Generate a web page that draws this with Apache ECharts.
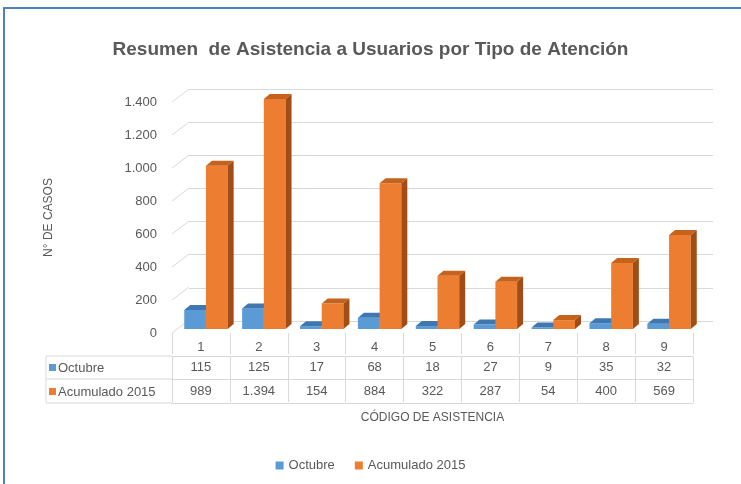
<!DOCTYPE html>
<html>
<head>
<meta charset="utf-8">
<script src="https://cdn.jsdelivr.net/npm/echarts@6/dist/echarts.min.js"></script>
<style>
  html, body { margin: 0; padding: 0; background: #fff; }
  #chart { width: 741px; height: 484px; }
</style>
</head>
<body>
<div id="chart"></div>
<script>
const categories = ['1', '2', '3', '4', '5', '6', '7', '8', '9']
const octubre = [115, 125, 17, 68, 18, 27, 9, 35, 32]
const acumulado = [989, 1394, 154, 884, 322, 287, 54, 400, 569]
const yTicks = [0, 200, 400, 600, 800, 1000, 1200, 1400]
const seriesNames = ['Octubre', 'Acumulado 2015']

const FONT = '"Liberation Sans", Arial, sans-serif'
const TXT = '#595959'
const LINE = '#d9d9d9'

// front plane of the plot and the back wall
const front = { left: 172, right: 48, top: 102, bottom: 151 }
const back = { left: 189, right: 28, top: 89, bottom: 163 }
const WALL_DX = back.left - front.left
const WALL_DY = back.top - front.top

// bars sit a little behind the front plane, with their own depth
const SHIFT_X = 5, SHIFT_Y = -4
const DX = 6, DY = 5

const fmt = v => String(v).replace(/\B(?=(\d{3})+(?!\d))/g, '.')

const bar3d = (k, faceColor, topColor, sideColor) => (params, api) => {
    const i = api.value(0)
    const v = api.value(1)
    const base = api.coord([i, 0])
    const head = api.coord([i, v])
    const band = api.size([1, 0])[0]
    const w = band * 0.375
    const x0 = base[0] + SHIFT_X + (k - 1) * w
    const x1 = x0 + w
    const yb = base[1] + SHIFT_Y
    const yt = head[1] + SHIFT_Y
    return {
        type: 'group',
        children: [
            { type: 'rect', shape: { x: x0, y: yt, width: w, height: yb - yt }, style: { fill: faceColor } },
            { type: 'polygon', shape: { points: [[x0, yt], [x1, yt], [x1 + DX, yt - DY], [x0 + DX, yt - DY]] }, style: { fill: topColor } },
            { type: 'polygon', shape: { points: [[x1, yt], [x1 + DX, yt - DY], [x1 + DX, yb - DY], [x1, yb]] }, style: { fill: sideColor } }
        ]
    }
}

const diagRender = (params, api) => {
    const p = api.coord([0, api.value(1)])
    const x = params.coordSys.x
    return {
        type: 'line',
        shape: { x1: x, y1: p[1], x2: x + WALL_DX, y2: p[1] + WALL_DY },
        style: { stroke: LINE, lineWidth: 1 }
    }
}

const rowAxis = (offset, values, margin, showLabel) => ({
    type: 'category',
    gridIndex: 0,
    position: 'bottom',
    data: categories,
    offset: offset,
    boundaryGap: true,
    axisLine: { show: true, lineStyle: { color: LINE } },
    axisTick: { show: showLabel, length: 23, lineStyle: { color: LINE } },
    axisLabel: {
        show: showLabel,
        margin: margin,
        color: TXT,
        fontFamily: FONT,
        fontSize: 13,
        formatter: (val, idx) => values ? fmt(values[idx]) : val
    },
    splitLine: { show: false }
})

const chart = echarts.init(document.getElementById('chart'))

const option = {
    animation: false,
    title: {
        text: 'Resumen  de Asistencia a Usuarios por Tipo de Atención',
        left: 'center',
        top: 35,
        textStyle: { color: TXT, fontFamily: FONT, fontSize: 19, fontWeight: 'bold' }
    },
    legend: {
        data: seriesNames,
        left: 'center',
        top: 454,
        icon: 'rect',
        itemWidth: 8,
        itemHeight: 8,
        itemGap: 20,
        textStyle: { color: TXT, fontFamily: FONT, fontSize: 13 }
    },
    grid: [
        { left: front.left, right: front.right, top: front.top, bottom: front.bottom },
        { left: back.left, right: back.right, top: back.top, bottom: back.bottom }
    ],
    xAxis: [
        {
            type: 'category',
            gridIndex: 0,
            position: 'bottom',
            data: categories,
            offset: 2,
            boundaryGap: true,
            axisLine: { show: false },
            axisTick: { show: true, length: 21, lineStyle: { color: LINE } },
            axisLabel: { margin: 6, color: TXT, fontFamily: FONT, fontSize: 13 }
        },
        rowAxis(23, octubre, 5, true),
        rowAxis(46, acumulado, 6, true),
        Object.assign(rowAxis(70, null, 0, false), {
            name: 'CÓDIGO DE ASISTENCIA',
            nameLocation: 'middle',
            nameGap: 9,
            nameTextStyle: { color: TXT, fontFamily: FONT, fontSize: 12 }
        }),
        {
            type: 'category',
            gridIndex: 1,
            data: categories,
            show: false
        }
    ],
    yAxis: [
        {
            type: 'value',
            gridIndex: 0,
            min: 0,
            max: 1400,
            interval: 200,
            name: 'N° DE CASOS',
            nameLocation: 'middle',
            nameGap: 117,
            nameTextStyle: { color: TXT, fontFamily: FONT, fontSize: 12 },
            axisLine: { show: false },
            axisTick: { show: false },
            splitLine: { show: false },
            axisLabel: { margin: 15, color: TXT, fontFamily: FONT, fontSize: 13, formatter: v => fmt(v) }
        },
        {
            type: 'value',
            gridIndex: 1,
            min: 0,
            max: 1400,
            interval: 200,
            axisLine: { show: false },
            axisTick: { show: false },
            axisLabel: { show: false },
            splitLine: { show: true, lineStyle: { color: LINE, width: 1 } }
        }
    ],
    graphic: [
        // outer frame
        { type: 'rect', shape: { x: 4, y: 8, width: 800, height: 600 }, style: { fill: 'none', stroke: '#4f81bd', lineWidth: 2 }, silent: true },
        // left column of the data table
        { type: 'line', shape: { x1: 46, y1: 356, x2: 172, y2: 356 }, style: { stroke: LINE } },
        { type: 'line', shape: { x1: 46, y1: 379, x2: 172, y2: 379 }, style: { stroke: LINE } },
        { type: 'line', shape: { x1: 46, y1: 403, x2: 172, y2: 403 }, style: { stroke: LINE } },
        { type: 'line', shape: { x1: 46, y1: 356, x2: 46, y2: 403 }, style: { stroke: LINE } },
        { type: 'rect', shape: { x: 49, y: 364, width: 7, height: 7 }, style: { fill: '#5b9bd5' } },
        { type: 'text', x: 58, y: 368, style: { text: seriesNames[0], fill: TXT, font: '13px ' + FONT, verticalAlign: 'middle' } },
        { type: 'rect', shape: { x: 49, y: 388, width: 7, height: 7 }, style: { fill: '#ed7d31' } },
        { type: 'text', x: 58, y: 392, style: { text: seriesNames[1], fill: TXT, font: '13px ' + FONT, verticalAlign: 'middle' } }
    ],
    series: [
        {
            name: 'walls',
            type: 'custom',
            xAxisIndex: 0,
            yAxisIndex: 0,
            z: 1,
            silent: true,
            renderItem: diagRender,
            data: yTicks.map(v => [0, v]),
            encode: { x: 0, y: 1 }
        },
        {
            name: seriesNames[0],
            type: 'custom',
            xAxisIndex: 0,
            yAxisIndex: 0,
            z: 3,
            itemStyle: { color: '#5b9bd5' },
            renderItem: bar3d(0, '#5b9bd5', '#3f78b0', '#35679a'),
            data: octubre.map((v, i) => [i, v]),
            encode: { x: 0, y: 1 }
        },
        {
            name: seriesNames[1],
            type: 'custom',
            xAxisIndex: 0,
            yAxisIndex: 0,
            z: 4,
            itemStyle: { color: '#ed7d31' },
            renderItem: bar3d(1, '#ed7d31', '#c5621c', '#a14e16'),
            data: acumulado.map((v, i) => [i, v]),
            encode: { x: 0, y: 1 }
        }
    ]
}

chart.setOption(option)
</script>
</body>
</html>
